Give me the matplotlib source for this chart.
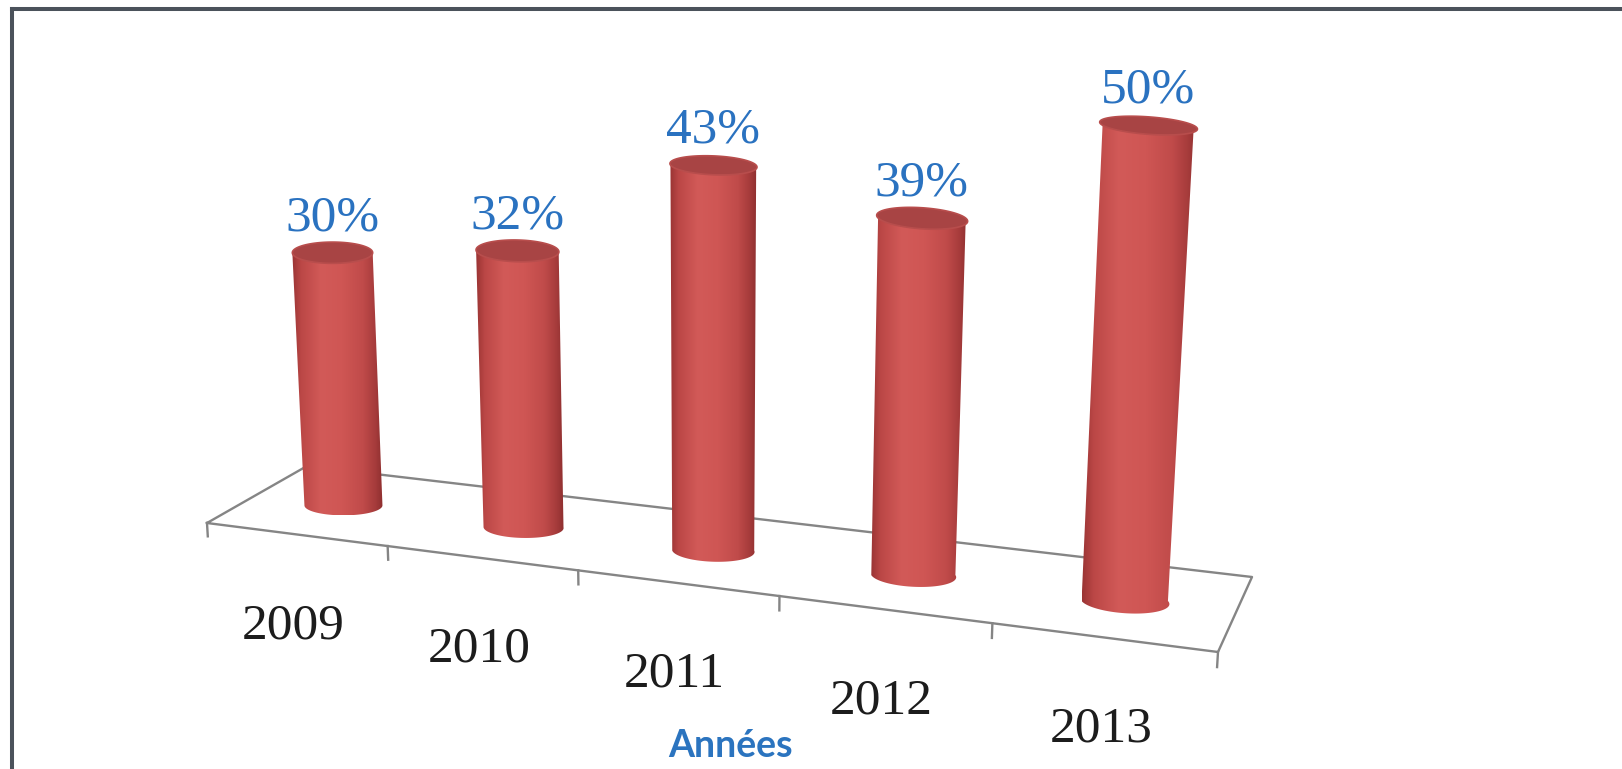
import numpy as np
import matplotlib
matplotlib.use("Agg")
import matplotlib.pyplot as plt
from matplotlib.patches import Polygon
from matplotlib.colors import LinearSegmentedColormap

# data
years = ["2009", "2010", "2011", "2012", "2013"]
values = [30, 32, 43, 39, 50]
value_labels = ["30%", "32%", "43%", "39%", "50%"]
axis_title = "Années"

W, H = 1622, 769
fig = plt.figure(figsize=(W / 100, H / 100), dpi=100)
ax = fig.add_axes([0, 0, 1, 1])
ax.axis("off")


def homography(src, dst):
    A, b = [], []
    for (x, y), (X, Y) in zip(src, dst):
        A.append([x, y, 1, 0, 0, 0, -X * x, -X * y]); b.append(X)
        A.append([0, 0, 0, x, y, 1, -Y * x, -Y * y]); b.append(Y)
    h = np.linalg.solve(np.array(A, float), np.array(b, float))
    return np.append(h, 1).reshape(3, 3)


# 3D look: floor plane (category u, depth d) and a vertical vanishing point
floor_uv = [(-0.5, 0), (4.5, 0), (4.5, 1), (-0.5, 1)]
floor_px = [(207, 523), (1218, 652), (1252, 577), (307, 466)]
F = homography(floor_uv, floor_px)
vanish = np.array([711.0, 9000.0, 1.0])
depth0 = 0.48
lam = -0.000963 * (F @ [0, depth0, 1])[2]


def project(u, d, z):
    u, d, z = np.broadcast_arrays(np.asarray(u, float), np.asarray(d, float), np.asarray(z, float))
    pts = np.stack([u.ravel(), d.ravel(), np.ones(u.size)])
    h = F @ pts + lam * z.ravel()[None, :] * vanish[:, None]
    return (h[0] / h[2]).reshape(u.shape), (h[1] / h[2]).reshape(u.shape)


# footprint of a cylinder: looks like a flat horizontal ellipse
eps = 1e-4
x0, y0 = project(0, depth0, 0)
xu, yu = project(eps, depth0, 0)
xd, yd = project(0, depth0 + eps, 0)
J = np.array([[xu - x0, xd - x0], [yu - y0, yd - y0]]) / eps
Jinv = np.linalg.inv(J)
e1 = Jinv @ np.array([39.0, 0.0])
e2 = Jinv @ np.array([0.0, -10.0])
e2_top = e2 * 1.5

# floor
fu = [c[0] for c in floor_uv] + [floor_uv[0][0]]
fd = [c[1] for c in floor_uv] + [floor_uv[0][1]]
fx, fy = project(fu, fd, 0)
ax.plot(fx, fy, color="#858585", lw=1.7, zorder=1)
for t in np.arange(-0.5, 5.0, 1.0):
    tx, ty = project([t, t], [0, 0], [0, -1.6])
    ax.plot(tx, ty, color="#858585", lw=1.7, zorder=1)

bar_cmap = LinearSegmentedColormap.from_list(
    "cyl",
    [(0.0, "#9a3434"), (0.10, "#bb4746"), (0.32, "#d25a58"), (0.55, "#cf5654"),
     (0.78, "#c04b4a"), (0.92, "#a53b3b"), (1.0, "#8e2f2f")])
grad = np.linspace(0, 1, 256).reshape(1, -1)

for i, v in enumerate(values):
    th = np.linspace(np.pi, 2 * np.pi, 80)
    du = np.cos(th) * e1[0] + np.sin(th) * e2[0]
    dd = np.cos(th) * e1[1] + np.sin(th) * e2[1]
    bx, by = project(i + du, depth0 + dd, 0)
    du_t = np.cos(th) * e1[0] + np.sin(th) * e2_top[0]
    dd_t = np.cos(th) * e1[1] + np.sin(th) * e2_top[1]
    tx, ty = project(i + du_t, depth0 + dd_t, v)
    body = np.column_stack([np.r_[bx, tx[::-1]], np.r_[by, ty[::-1]]])
    patch = Polygon(body, closed=True, facecolor="none", edgecolor="none", zorder=3)
    ax.add_patch(patch)
    im = ax.imshow(grad, cmap=bar_cmap, aspect="auto", zorder=3,
                   extent=(body[:, 0].min(), body[:, 0].max(), body[:, 1].max(), body[:, 1].min()))
    im.set_clip_path(patch)

    th2 = np.linspace(0, 2 * np.pi, 120)
    du2 = np.cos(th2) * e1[0] + np.sin(th2) * e2_top[0]
    dd2 = np.cos(th2) * e1[1] + np.sin(th2) * e2_top[1]
    cx, cy = project(i + du2, depth0 + dd2, v)
    ax.add_patch(Polygon(np.column_stack([cx, cy]), closed=True,
                         facecolor="#a84444", edgecolor="#b84d4c", lw=1.2, zorder=4))

    px, py = project(i, depth0, v)
    ax.annotate(value_labels[i], (float(px), float(py)), xytext=(0, 25), textcoords="offset points",
                ha="center", va="center", fontsize=37, family="Liberation Serif",
                color="#2a72c0", zorder=5)

    lx, ly = project(i, 0, 0)
    ax.annotate(years[i], (float(lx), float(ly)), xytext=(-2, -66), textcoords="offset points",
                ha="center", va="center", fontsize=37, family="Liberation Serif",
                color="#1c1c1c", zorder=5)

ax.text(731, 746, axis_title, ha="center", va="center", fontsize=27, fontweight="bold",
        family="Lato", color="#2b74bf")

# frame
ax.plot([12, W], [9, 9], color="#4b525b", lw=2.9, solid_capstyle="projecting", zorder=6)
ax.plot([12, 12], [9, H], color="#4b525b", lw=2.9, solid_capstyle="projecting", zorder=6)

ax.set_xlim(0, W)
ax.set_ylim(H, 0)
fig.savefig("out.png", dpi=100)
